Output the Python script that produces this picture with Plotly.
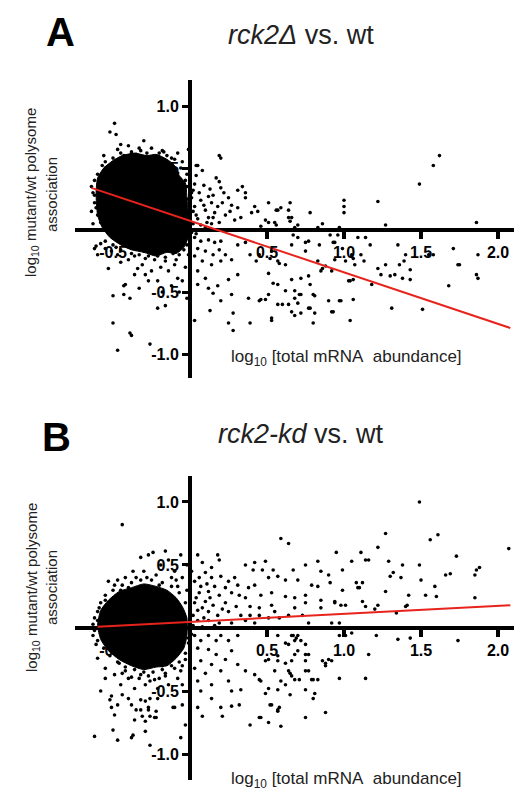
import plotly.graph_objects as go

# ---------------- data ----------------
x_tickvals = [-0.5, 0.5, 1.0, 1.5, 2.0]
x_ticktext = ["-0.5", "0.5", "1.0", "1.5", "2.0"]
y_tickvals = [-1.0, -0.5, 0.5, 1.0]
y_ticktext = ["-1.0", "-0.5", "0.5", "1.0"]

# Panel A: outline of the saturated (solid black) part of the point cloud
a_core_x = [-0.61, -0.60, -0.56, -0.50, -0.44, -0.36, -0.28, -0.22, -0.15, -0.10, -0.07, -0.03, -0.02, -0.01,
            -0.01, -0.04, -0.09, -0.15, -0.22, -0.30, -0.38, -0.45, -0.52, -0.57, -0.60]
a_core_y = [0.30, 0.42, 0.50, 0.56, 0.60, 0.62, 0.60, 0.61, 0.57, 0.52, 0.44, 0.38, 0.26, 0.10,
            -0.05, -0.14, -0.19, -0.18, -0.21, -0.18, -0.16, -0.12, -0.06, 0.02, 0.12]

a_points = [
    (-0.49, 0.86), (-0.52, 0.79), (-0.48, 0.77), (-0.45, 0.69), (-0.47, 0.65), (-0.08, 0.62), (-0.01, 0.65),
    (0.04, 0.52), (-0.12, 0.58), (0.20, 0.58),
    (-0.64, 0.35), (-0.62, 0.28), (-0.61, 0.18), (-0.60, 0.12), (-0.58, 0.06), (-0.62, -0.15), (-0.60, -0.20),
    (-0.61, -0.13), (-0.58, -0.11),
    (-0.55, 0.50), (-0.50, 0.58), (-0.45, 0.62), (-0.38, 0.63), (-0.32, 0.64), (-0.28, 0.62), (-0.20, 0.62),
    (-0.15, 0.60), (-0.10, 0.57), (-0.06, 0.50), (-0.03, 0.40), (-0.02, 0.35), (-0.43, 0.60), (-0.35, 0.61),
    (-0.22, 0.57), (-0.17, 0.63), (-0.08, 0.46), (-0.57, 0.52),
    (-0.63, 0.30), (-0.62, 0.22), (-0.63, 0.05), (-0.60, 0.00), (-0.59, 0.40), (-0.60, 0.45), (-0.64, 0.15),
    (-0.55, -0.09), (-0.50, -0.12), (-0.45, -0.16), (-0.38, -0.19), (-0.33, -0.20), (-0.27, -0.21), (-0.21, -0.21),
    (-0.16, -0.22), (-0.11, -0.19), (-0.07, -0.20), (-0.04, -0.16), (-0.02, -0.12), (-0.48, -0.14), (-0.42, -0.12),
    (-0.30, -0.17), (-0.19, -0.18), (-0.09, -0.24), (-0.01, -0.20),
    (-0.01, 0.05), (0.00, 0.12), (0.01, 0.30), (-0.02, 0.25),
    (-0.53, -0.31), (-0.50, -0.53), (-0.47, -0.97), (-0.38, -0.85), (-0.26, -0.92), (-0.39, -0.55), (-0.43, -0.45),
    (-0.42, -0.44), (-0.21, -0.63), (-0.16, -0.61), (-0.27, -0.41), (-0.21, -0.41), (-0.36, -0.36), (-0.34, -0.31),
    (-0.29, -0.36), (-0.25, -0.33), (-0.14, -0.33), (-0.08, -0.39), (-0.05, -0.41), (-0.10, -0.28), (-0.16, -0.25),
    (-0.23, -0.24), (-0.29, -0.23), (-0.36, -0.21), (-0.40, -0.24), (-0.47, -0.20), (-0.51, -0.17), (-0.55, -0.15),
    (-0.50, -0.75), (-0.39, -0.83), (-0.43, -0.52),
    (-0.45, -0.26), (-0.31, -0.28), (-0.19, -0.30), (-0.03, -0.30), (-0.12, -0.45), (-0.33, -0.47), (-0.02, -0.55),
    (-0.07, -0.50), (-0.18, -0.50),
    (-0.55, 0.55), (-0.40, 0.68), (-0.33, 0.66), (-0.25, 0.66), (-0.18, 0.64), (-0.05, 0.55), (-0.02, 0.45),
    (-0.62, 0.40), (-0.56, 0.60), (-0.30, 0.72),
    (0.19, 0.60), (0.05, 0.52), (0.08, 0.48), (0.04, 0.44), (0.17, 0.42), (0.19, 0.39), (0.20, 0.34), (0.31, 0.32),
    (0.34, 0.35), (0.36, 0.30), (0.36, 0.26), (0.51, 0.22), (0.57, 0.16), (0.64, 0.16), (0.65, 0.22), (0.78, 0.14),
    (1.00, 0.19), (1.00, 0.14), (0.42, 0.19), (0.44, 0.15), (0.40, 0.14), (0.49, 0.08), (0.55, 0.06), (0.66, 0.10),
    (0.31, 0.18), (0.27, 0.20), (0.25, 0.26), (0.12, 0.27), (0.07, 0.24), (0.14, 0.22), (0.18, 0.19), (0.10, 0.16),
    (0.16, 0.14), (0.23, 0.12), (0.29, 0.08), (0.33, 0.10), (0.03, 0.19), (0.04, 0.12), (0.12, 0.10), (0.19, 0.06),
    (0.07, 0.04), (0.01, 0.26), (0.02, 0.32),
    (0.02, 0.05), (0.05, 0.09), (0.09, 0.20), (0.11, 0.06), (0.13, 0.33), (0.03, 0.37), (0.06, 0.30), (0.09, 0.36),
    (0.15, 0.28), (0.02, 0.15), (0.06, 0.00), (0.10, 0.02), (0.14, 0.05), (0.22, 0.30), (0.26, 0.15), (0.21, 0.22),
    (0.15, 0.10), (0.01, -0.02), (0.04, -0.03),
    (1.62, 0.60), (1.58, 0.52), (1.49, 0.37), (1.22, 0.23), (1.00, 0.24), (0.59, 0.18), (0.56, 0.16), (0.64, 0.10),
    (1.27, 0.04), (1.86, 0.06), (2.08, 0.00), (0.70, 0.04), (0.86, 0.05), (0.46, 0.03),
    (0.51, 0.06), (0.56, 0.04), (0.65, 0.07), (0.68, 0.02), (0.83, 0.02), (0.97, 0.02),
    (0.03, -0.06), (0.07, -0.09), (0.12, -0.08), (0.16, -0.10), (0.20, -0.09), (0.05, -0.15), (0.10, -0.17),
    (0.15, -0.20), (0.19, -0.16), (0.23, -0.20), (0.03, -0.21), (0.08, -0.25), (0.14, -0.28), (0.20, -0.25),
    (0.27, -0.24), (0.31, -0.12), (0.36, -0.10), (0.39, -0.20), (0.43, -0.25), (0.53, -0.17), (0.58, -0.27),
    (0.66, -0.12), (0.70, -0.06), (0.75, -0.10), (0.75, -0.17), (0.84, -0.12), (0.86, -0.31), (0.92, -0.33),
    (0.94, -0.10), (0.99, -0.15), (1.05, -0.20), (1.07, -0.28), (1.04, -0.41), (1.06, -0.40), (0.05, -0.33),
    (0.10, -0.39), (0.05, -0.44), (0.12, -0.47), (0.18, -0.45), (0.25, -0.40), (0.31, -0.36), (0.15, -0.51),
    (0.20, -0.57), (0.27, -0.52), (0.38, -0.55), (0.45, -0.57), (0.51, -0.52), (0.57, -0.44), (0.62, -0.49),
    (0.64, -0.60), (0.68, -0.55), (0.72, -0.52), (0.77, -0.63), (0.81, -0.53), (0.90, -0.57), (0.97, -0.57),
    (0.13, -0.65), (0.28, -0.67), (0.39, -0.75), (0.25, -0.75), (0.28, -0.81), (0.53, -0.73), (0.68, -0.69),
    (0.80, -0.75), (1.04, -0.73), (0.03, -0.73), (0.92, -0.66), (0.81, -0.67),
    (0.67, -0.04), (0.77, -0.09), (0.91, -0.04), (0.96, -0.04), (1.09, -0.06), (1.14, -0.06), (1.17, -0.12),
    (1.11, -0.20), (1.13, -0.25), (1.35, -0.12), (1.40, -0.20), (1.39, -0.25), (1.36, -0.28), (1.43, -0.32),
    (1.38, -0.39), (1.43, -0.40), (1.27, -0.28), (1.24, -0.36), (1.30, -0.37), (1.33, -0.36), (1.22, -0.31),
    (1.18, -0.44), (1.03, -0.41), (1.06, -0.56), (0.98, -0.57), (1.31, -0.63), (1.51, -0.64), (1.68, -0.45),
    (1.71, -0.15), (1.74, -0.28), (1.75, -0.28), (1.86, -0.36), (1.87, -0.39), (1.87, -0.20), (1.58, -0.20),
    (1.55, -0.20), (0.93, -0.10), (0.85, -0.33), (0.78, -0.44), (0.53, -0.71), (0.66, -0.66), (0.70, -0.59),
    (0.78, -0.63), (0.72, -0.67), (0.93, -0.66), (0.46, -0.56), (0.49, -0.56), (0.57, -0.60), (0.60, -0.60),
    (0.51, -0.35), (0.54, -0.43), (0.66, -0.40), (0.72, -0.39), (0.77, -0.37), (0.68, -0.49), (0.71, -0.52),
    (0.80, -0.52), (0.45, -0.20), (0.52, -0.23), (0.57, -0.25), (0.62, -0.28), (0.83, -0.25), (0.88, -0.29),
    (0.94, -0.24), (1.01, -0.25), (1.06, -0.23),
]
a_fit_x = [-0.64, 2.08]
a_fit_y = [0.34, -0.79]

# Panel B
b_core_x = [-0.60, -0.58, -0.53, -0.46, -0.38, -0.30, -0.22, -0.15, -0.09, -0.05, -0.02, -0.02, -0.04, -0.09,
            -0.15, -0.22, -0.30, -0.38, -0.46, -0.53, -0.58]
b_core_y = [0.02, 0.14, 0.22, 0.29, 0.32, 0.35, 0.33, 0.30, 0.24, 0.17, 0.08, -0.06, -0.16, -0.24,
            -0.30, -0.31, -0.33, -0.30, -0.25, -0.18, -0.09]

b_points = [
    (-0.44, 0.82), (-0.24, 0.60), (-0.16, 0.61), (-0.27, 0.58), (-0.32, 0.56), (-0.14, 0.54), (-0.19, 0.50),
    (-0.37, 0.45), (-0.42, 0.40), (-0.49, 0.34), (-0.55, 0.26), (-0.53, 0.37), (-0.60, 0.13), (-0.62, 0.08),
    (-0.63, -0.06), (-0.61, -0.13), (-0.60, -0.24), (-0.55, -0.32),
    (-0.55, 0.22), (-0.50, 0.30), (-0.44, 0.34), (-0.38, 0.36), (-0.32, 0.38), (-0.25, 0.38), (-0.18, 0.36),
    (-0.12, 0.33), (-0.07, 0.28), (-0.03, 0.20), (-0.40, 0.32), (-0.28, 0.40), (-0.20, 0.34), (-0.09, 0.38),
    (-0.47, 0.38),
    (-0.60, 0.06), (-0.62, -0.02), (-0.60, -0.10), (-0.59, 0.16), (-0.63, 0.03),
    (-0.56, -0.16), (-0.52, -0.22), (-0.47, -0.27), (-0.42, -0.31), (-0.36, -0.33), (-0.30, -0.35), (-0.24, -0.35),
    (-0.18, -0.33), (-0.12, -0.30), (-0.07, -0.27), (-0.03, -0.20), (-0.01, -0.12), (-0.44, -0.36), (-0.33, -0.40),
    (-0.26, -0.42), (-0.16, -0.36), (-0.05, -0.30), (-0.38, -0.39),
    (0.00, 0.05), (0.01, -0.05), (0.00, 0.15), (-0.01, -0.08),
    (-0.10, 0.45), (-0.05, 0.40), (-0.30, 0.45), (-0.22, 0.42), (-0.45, 0.30), (-0.58, 0.20), (-0.08, 0.33),
    (-0.02, 0.30), (-0.12, 0.40), (-0.35, 0.40), (-0.02, 0.50), (-0.06, 0.58),
    (-0.58, -0.50), (-0.51, -0.54), (-0.47, -0.61), (-0.49, -0.69), (-0.62, -0.86), (-0.50, -0.81), (-0.47, -0.89),
    (-0.37, -0.85), (-0.29, -0.82), (-0.36, -0.73), (-0.29, -0.74), (-0.23, -0.71), (-0.27, -0.65), (-0.32, -0.65),
    (-0.38, -0.61), (-0.40, -0.56), (-0.29, -0.58), (-0.21, -0.56), (-0.10, -0.63), (-0.06, -0.87), (-0.45, -0.45),
    (-0.36, -0.48), (-0.29, -0.45), (-0.23, -0.41), (-0.16, -0.38), (-0.10, -0.32), (-0.06, -0.34), (-0.49, -0.37),
    (-0.42, -0.34), (-0.32, -0.37), (-0.21, -0.48), (-0.14, -0.45), (-0.05, -0.45), (-0.38, -0.87), (-0.26, -0.93),
    (-0.03, -0.77), (-0.52, -0.57), (-0.51, -0.63), (-0.44, -0.53), (-0.32, -0.57), (-0.26, -0.56), (-0.35, -0.65),
    (-0.27, -0.63), (-0.31, -0.70), (-0.26, -0.70), (-0.22, -0.66), (-0.22, -0.71), (-0.11, -0.63), (-0.05, -0.61),
    (-0.55, -0.40), (-0.46, -0.28), (-0.40, -0.40), (-0.27, -0.38), (-0.18, -0.30), (-0.12, -0.22), (-0.03, -0.25),
    (-0.08, -0.40), (-0.20, -0.40), (-0.34, -0.30),
    (0.59, 0.71), (0.64, 0.67), (0.05, 0.58), (0.18, 0.58), (0.19, 0.54), (0.08, 0.52), (0.36, 0.50), (0.42, 0.52),
    (0.49, 0.53), (0.41, 0.46), (0.47, 0.46), (0.54, 0.46), (0.67, 0.46), (0.75, 0.50), (0.83, 0.53), (0.85, 0.45),
    (0.90, 0.42), (0.95, 0.60), (0.99, 0.46), (1.11, 0.60), (1.05, 0.53), (1.14, 0.54), (0.51, 0.40), (0.57, 0.41),
    (0.62, 0.38), (0.70, 0.38), (0.79, 0.34), (0.83, 0.33), (0.91, 0.36), (0.99, 0.30), (1.09, 0.32), (1.12, 0.36),
    (0.42, 0.34), (0.38, 0.32), (0.31, 0.34), (0.29, 0.40), (0.25, 0.37), (0.20, 0.41), (0.14, 0.40), (0.10, 0.44),
    (0.03, 0.37), (0.07, 0.33), (0.16, 0.33), (0.23, 0.32), (0.12, 0.29), (0.19, 0.26), (0.27, 0.28), (0.32, 0.26),
    (0.36, 0.24), (0.46, 0.26), (0.53, 0.28), (0.62, 0.25), (0.68, 0.24), (0.75, 0.26), (0.75, 0.20), (0.85, 0.22),
    (0.94, 0.21), (0.98, 0.18), (0.85, 0.16), (0.04, 0.24), (0.10, 0.21), (0.15, 0.18), (0.23, 0.20), (0.30, 0.17),
    (0.39, 0.17), (0.45, 0.16), (0.53, 0.18), (0.55, 0.13), (0.64, 0.10), (0.68, 0.16), (0.73, 0.10), (0.05, 0.14),
    (0.12, 0.13), (0.18, 0.10), (0.25, 0.13), (0.33, 0.10), (0.39, 0.10), (0.45, 0.10), (0.51, 0.08), (0.58, 0.08),
    (0.05, 0.06), (0.12, 0.06), (0.19, 0.04), (0.27, 0.04), (0.36, 0.06), (0.42, 0.04), (0.77, 0.04), (0.92, 0.04),
    (0.97, 0.04),
    (0.02, 0.10), (0.03, 0.20), (0.06, 0.28), (0.08, 0.16), (0.09, 0.08), (0.11, 0.35), (0.13, 0.24), (0.02, 0.02),
    (0.06, 0.40), (0.14, 0.48), (0.01, 0.45), (0.04, 0.00), (0.08, 0.01), (0.21, 0.15), (0.16, 0.02),
    (0.03, -0.06), (0.07, -0.10), (0.12, -0.06), (0.17, -0.10), (0.20, -0.06), (0.25, -0.10), (0.31, -0.06),
    (0.05, -0.16), (0.12, -0.17), (0.17, -0.21), (0.23, -0.25), (0.27, -0.18), (0.07, -0.26), (0.14, -0.29),
    (0.03, -0.32), (0.10, -0.36), (0.20, -0.34), (0.31, -0.29), (0.36, -0.34), (0.42, -0.37), (0.05, -0.42),
    (0.14, -0.45), (0.25, -0.42), (0.33, -0.49), (0.27, -0.50), (0.07, -0.50), (0.14, -0.56), (0.05, -0.63),
    (0.20, -0.63), (0.27, -0.62), (0.32, -0.61), (0.08, -0.70), (0.21, -0.70), (0.39, -0.77), (0.45, -0.71),
    (0.52, -0.61), (0.57, -0.66), (0.58, -0.63), (0.49, -0.52), (0.59, -0.42), (0.45, -0.41), (0.64, -0.34),
    (0.51, -0.25), (0.57, -0.22), (0.64, -0.13), (0.66, -0.06), (0.68, -0.10), (0.70, -0.06), (0.75, -0.21),
    (0.75, -0.26), (0.66, -0.26), (0.75, -0.34), (0.80, -0.41), (0.75, -0.49), (0.81, -0.52), (0.80, -0.56),
    (0.88, -0.67), (0.75, -0.71), (0.86, -0.26), (0.88, -0.30), (0.92, -0.26), (0.97, -0.40), (1.14, -0.40),
    (0.68, -0.41),
    (1.27, 0.75), (1.56, 0.70), (1.61, 0.74), (2.07, 0.63), (1.22, 0.64), (1.73, 0.57), (1.49, 0.50), (1.38, 0.50),
    (1.29, 0.53), (1.16, 0.54), (1.32, 0.44), (1.30, 0.41), (1.37, 0.40), (1.50, 0.38), (1.66, 0.42), (1.69, 0.43),
    (1.86, 0.46), (1.85, 0.42), (1.88, 0.48), (1.59, 0.33), (1.53, 0.26), (1.60, 0.25), (1.42, 0.26), (1.40, 0.17),
    (1.41, 0.18), (1.85, 0.24), (1.34, 0.12), (1.27, 0.29), (1.22, 0.18), (1.20, 0.15), (1.12, 0.21), (1.14, 0.17),
    (1.08, 0.36), (1.10, 0.32), (0.94, 0.20), (1.01, 0.18), (1.49, 1.00),
    (1.74, -0.10), (1.35, -0.09), (1.43, -0.08), (1.21, -0.06), (1.16, -0.21), (1.01, -0.06), (1.05, -0.04),
    (0.97, -0.06), (0.59, -0.78), (0.51, -0.75), (0.57, -0.65), (0.46, -0.71), (0.53, -0.61), (0.88, -0.28),
    (0.90, -0.25), (0.83, -0.41), (0.79, -0.41), (0.71, -0.41), (0.77, -0.34), (0.65, -0.36), (0.66, -0.38),
    (0.62, -0.45), (0.57, -0.49), (0.51, -0.48), (0.46, -0.42), (0.65, -0.53), (0.55, -0.34), (0.57, -0.26),
    (0.62, -0.28), (0.49, -0.26), (0.68, -0.21), (0.77, -0.21), (0.70, -0.18), (0.75, -0.13), (0.67, -0.06),
    (0.69, -0.08), (0.72, -0.10), (0.57, -0.06), (0.62, -0.12),
]
b_fit_x = [-0.60, 2.08]
b_fit_y = [0.01, 0.18]

# ---------------- figure ----------------
W, H = 522, 792
FONT = "Liberation Sans, Arial, sans-serif"
fig = go.Figure()


def add_panel(core_x, core_y, pts, fit_x, fit_y, xa, ya):
    fig.add_trace(go.Scatter(
        x=core_x + core_x[:1], y=core_y + core_y[:1], mode="lines", fill="toself",
        fillcolor="black", line=dict(color="black", width=1, shape="spline", smoothing=0.6),
        xaxis=xa, yaxis=ya, hoverinfo="skip", showlegend=False))
    fig.add_trace(go.Scatter(
        x=[p[0] for p in pts], y=[p[1] for p in pts], mode="markers",
        marker=dict(size=3.6, color="black"),
        xaxis=xa, yaxis=ya, showlegend=False))
    fig.add_trace(go.Scatter(
        x=fit_x, y=fit_y, mode="lines", line=dict(color="#e8231c", width=2),
        xaxis=xa, yaxis=ya, showlegend=False))


add_panel(a_core_x, a_core_y, a_points, a_fit_x, a_fit_y, "x", "y")
add_panel(b_core_x, b_core_y, b_points, b_fit_x, b_fit_y, "x2", "y2")

x_range = [-0.7468, 2.2078]
x_dom = [67 / W, 1.0]
y_pos_axis = 182 / W

common_x = dict(range=x_range, domain=x_dom, anchor="free", showgrid=False,
                zeroline=True, zerolinecolor="black", zerolinewidth=4,
                showline=False, ticks="outside", ticklen=8,
                tickwidth=3.5, tickcolor="black", tickvals=x_tickvals, ticktext=x_ticktext,
                tickfont=dict(family=FONT, size=16, color="black", weight="bold"))
common_y = dict(anchor="free", position=y_pos_axis, showgrid=False,
                zeroline=True, zerolinecolor="black", zerolinewidth=4,
                showline=False, ticks="outside", ticklen=8,
                tickwidth=3, tickcolor="black", tickvals=y_tickvals, ticktext=y_ticktext,
                tickfont=dict(family=FONT, size=16, color="black", weight="bold"))

fig.update_layout(
    width=W, height=H, margin=dict(l=0, r=0, t=0, b=0),
    paper_bgcolor="white", plot_bgcolor="white", showlegend=False,
    xaxis=dict(**common_x, position=1 - 222 / H),
    yaxis=dict(**common_y, range=[-1.1935, 1.2097], domain=[1 - 370 / H, 1 - 72 / H]),
    xaxis2=dict(**common_x, position=1 - 620 / H),
    yaxis2=dict(**common_y, range=[-1.206, 1.206], domain=[1 - 772 / H, 1 - 468 / H]),
)

ann = []


def add_text(text, px, py, size, bold=False, angle=0, color="#222222", yanchor="middle"):
    ann.append(dict(text=text, x=px / W, y=1 - py / H, xref="paper", yref="paper",
                    showarrow=False, textangle=angle, xanchor="center", yanchor=yanchor,
                    font=dict(family=FONT, size=size, color=color,
                              weight="bold" if bold else "normal")))


ytitle1 = "log<sub>10</sub> mutant/wt polysome"
ytitle2 = "association"
xtitle = "log<sub>10</sub> [total mRNA\u00a0 abundance]"

add_text("A", 52, 0, 40, bold=True, color="black", yanchor="top")
add_text("<i>rck2\u0394</i> vs. wt", 293, 27, 27)
add_text(ytitle1, 24, 185, 15, angle=-90)
add_text(ytitle2, 43, 187, 15, angle=-90)
add_text(xtitle, 338, 350, 17)

add_text("B", 48, 405, 40, bold=True, color="black", yanchor="top")
add_text("<i>rck2-kd</i> vs. wt", 293, 426, 27)
add_text(ytitle1, 24, 580, 15, angle=-90)
add_text(ytitle2, 43, 580, 15, angle=-90)
add_text(xtitle, 338, 772, 17)

fig.update_layout(annotations=ann)
fig.write_html("out.html")
